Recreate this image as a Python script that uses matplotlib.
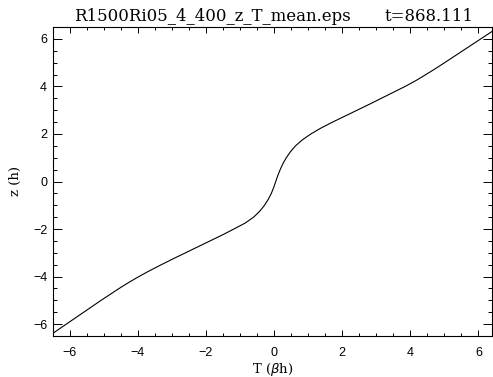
import numpy as np
import matplotlib
matplotlib.use("Agg")
import matplotlib.pyplot as plt
from matplotlib.ticker import MultipleLocator

# mean temperature profile
z_vals = [-6.5, -6.0, -5.5, -5.0, -4.5, -4.25, -4.0, -3.75, -3.5, -3.25, -3.0, -2.75,
          -2.5, -2.25, -2.0, -1.75, -1.5, -1.25, -1.0, -0.75, -0.5, -0.25,
          0.0, 0.25, 0.5, 0.75, 1.0, 1.25, 1.5, 1.75, 2.0, 2.25, 2.5, 2.75,
          3.0, 3.25, 3.5, 3.75, 4.0, 4.25, 4.5, 4.75, 5.0, 5.5, 6.0, 6.5]
T_vals = [-6.61, -6.10, -5.59, -5.08, -4.55, -4.27, -3.97, -3.65, -3.31, -2.96, -2.60, -2.24,
          -1.88, -1.52, -1.18, -0.85, -0.60, -0.42, -0.28, -0.17, -0.08, -0.01,
          0.05, 0.11, 0.18, 0.26, 0.36, 0.48, 0.63, 0.83, 1.08, 1.38, 1.72, 2.08,
          2.44, 2.80, 3.15, 3.50, 3.85, 4.17, 4.46, 4.74, 5.01, 5.54, 6.07, 6.60]

title_left = "R1500Ri05_4_400_z_T_mean.eps"
title_right = "t=868.111"

fig = plt.figure(figsize=(4.93, 3.77), dpi=100)
ax = fig.add_axes([52.7/493, 41/377, 439.3/493, 309/377])

ax.plot(T_vals, z_vals, color="black", lw=0.8)

ax.set_xlim(-6.5, 6.4)
ax.set_ylim(-6.5, 6.5)
ax.xaxis.set_major_locator(MultipleLocator(2))
ax.xaxis.set_minor_locator(MultipleLocator(0.5))
ax.yaxis.set_major_locator(MultipleLocator(2))
ax.yaxis.set_minor_locator(MultipleLocator(0.5))
ax.tick_params(which="both", direction="in", top=True, right=True, width=0.7, color="black")
ax.tick_params(axis="x", which="major", length=4.3, pad=8)
ax.tick_params(axis="x", which="minor", length=2.2)
ax.tick_params(axis="y", which="major", length=6.5, pad=4)
ax.tick_params(axis="y", which="minor", length=3.2)
for lab in ax.get_xticklabels() + ax.get_yticklabels():
    lab.set_family("Liberation Sans")
    lab.set_fontsize(9)
for s in ax.spines.values():
    s.set_linewidth(0.8)

ax.set_xlabel("T ($\\beta$h)", family="DejaVu Serif", fontsize=9.5, labelpad=1)
ax.set_ylabel("z (h)", family="DejaVu Serif", fontsize=9.5, labelpad=8)

fig.text(74/493, 1 - 21/377, title_left, family="DejaVu Serif", fontsize=11.9)
fig.text(385/493, 1 - 21/377, title_right, family="DejaVu Serif", fontsize=11.9)

fig.savefig("out.png", dpi=100)
